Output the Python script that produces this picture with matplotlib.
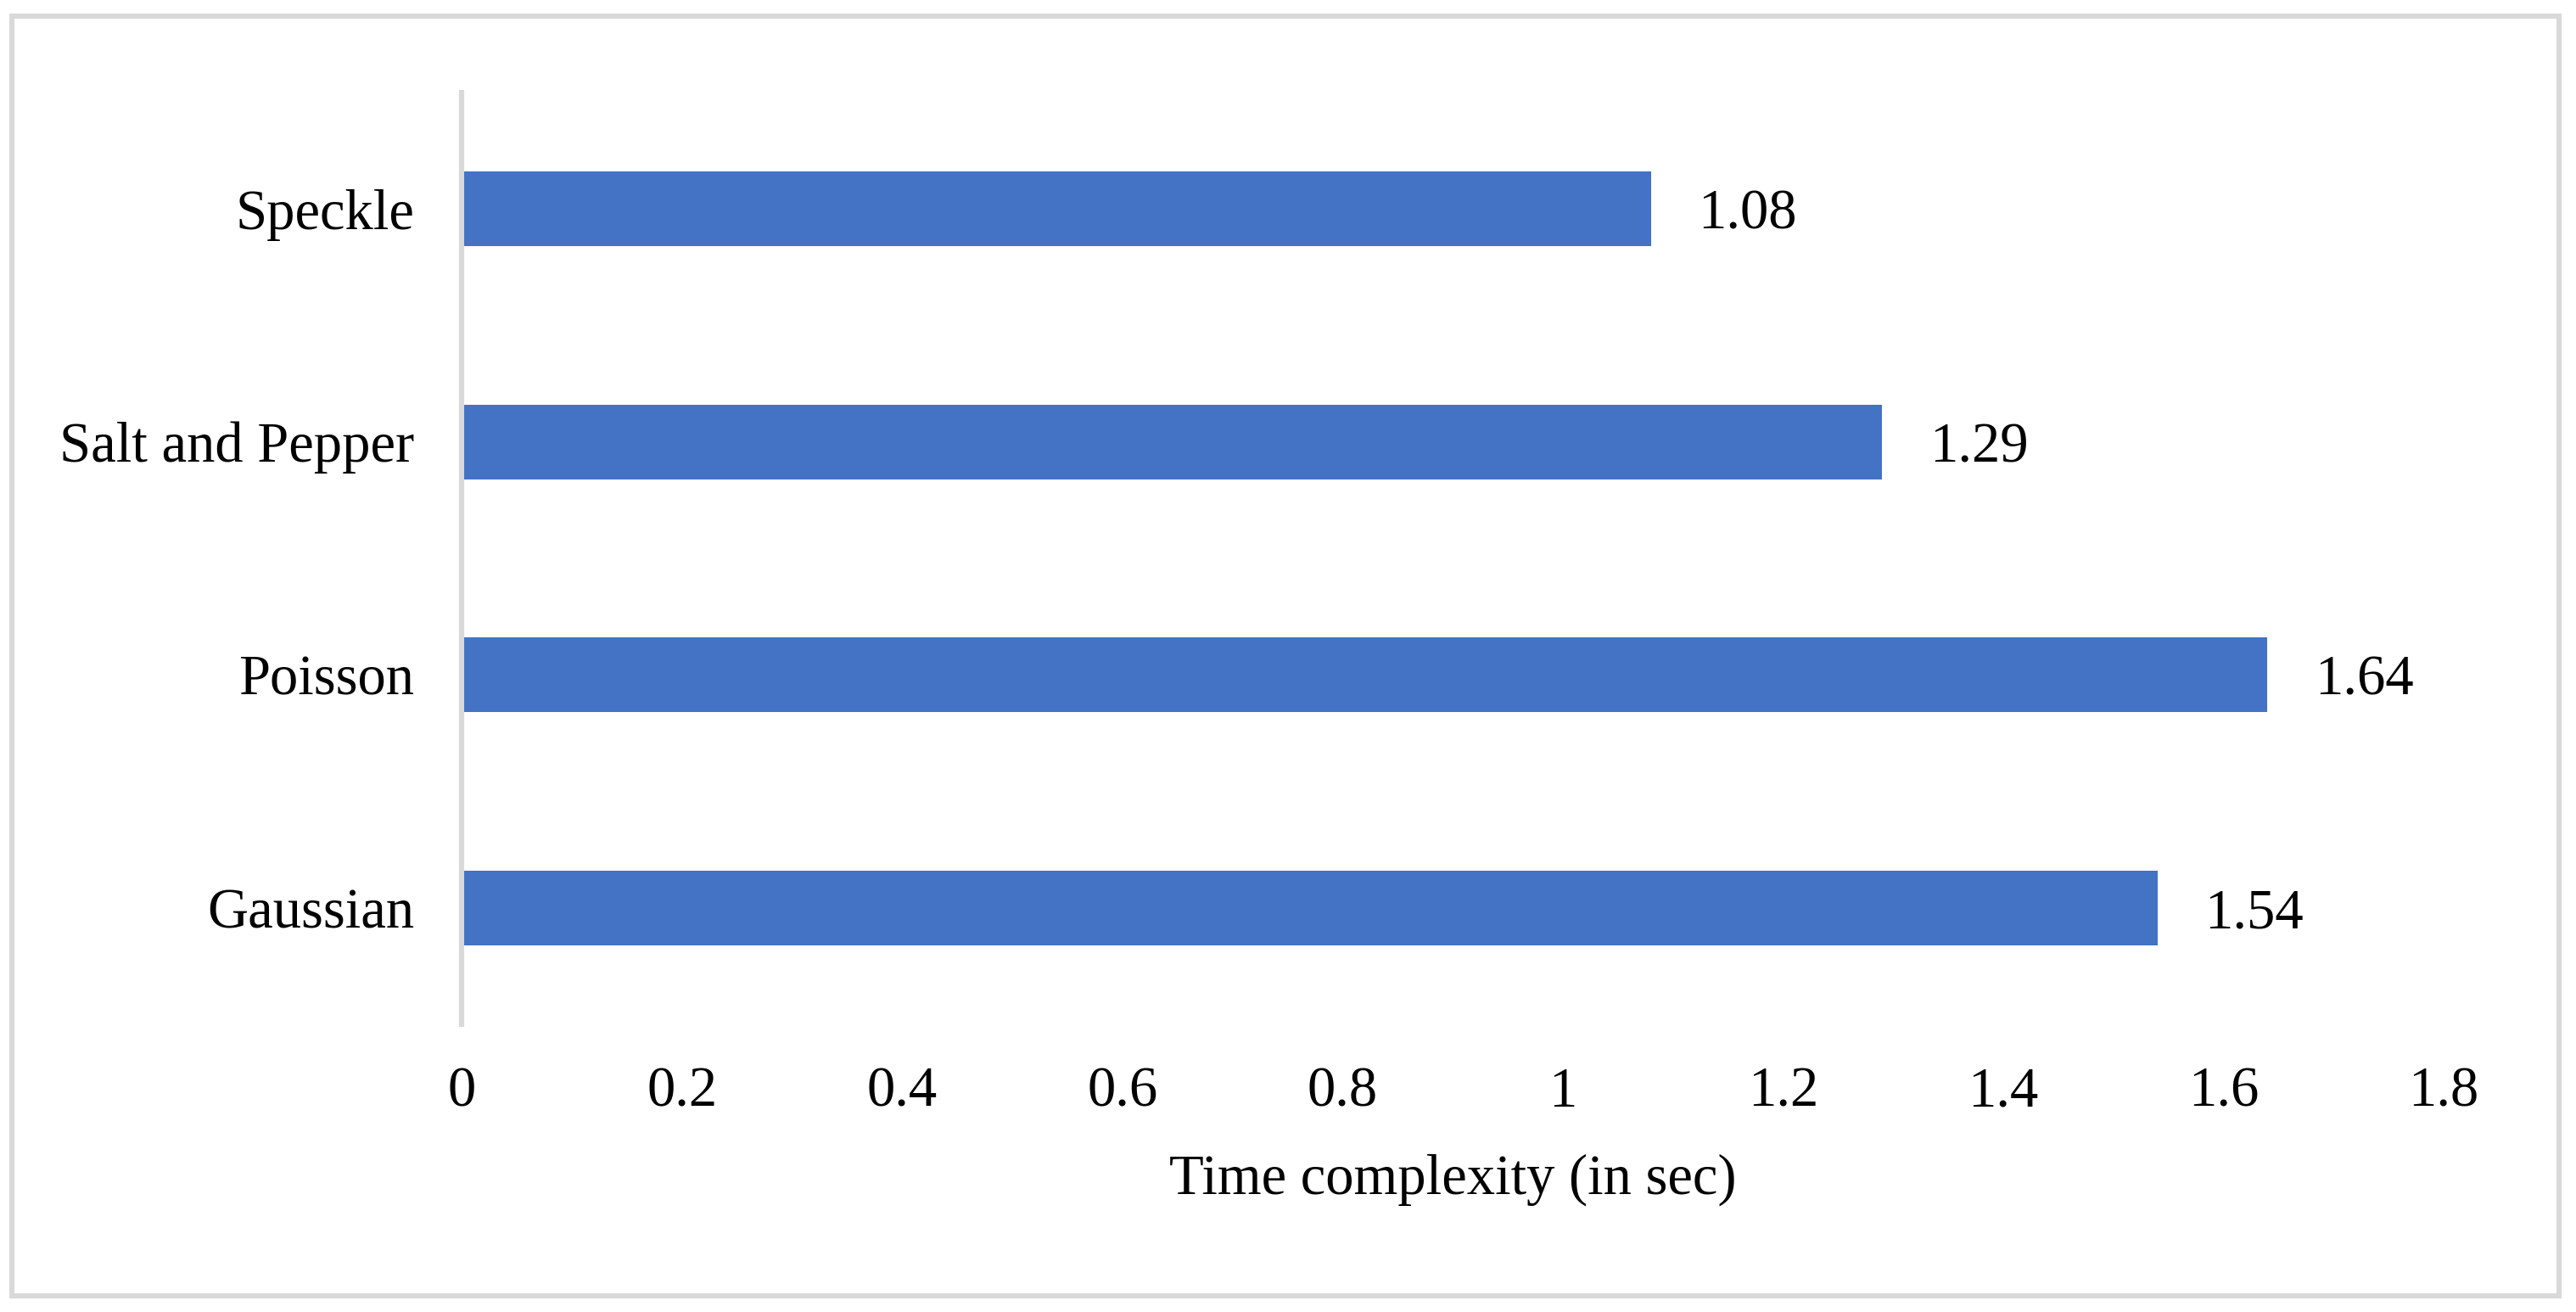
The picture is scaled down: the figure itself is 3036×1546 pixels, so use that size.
import matplotlib.pyplot as plt
from matplotlib.patches import Rectangle

# noise types, listed bottom to top as barh draws them
noise_types = ['Gaussian', 'Poisson', 'Salt and Pepper', 'Speckle']
times = [1.54, 1.64, 1.29, 1.08]
x_ticks = [0, 0.2, 0.4, 0.6, 0.8, 1, 1.2, 1.4, 1.6, 1.8]
x_tick_labels = ['0', '0.2', '0.4', '0.6', '0.8', '1', '1.2', '1.4', '1.6', '1.8']

plt.rcParams['font.family'] = ['Liberation Serif', 'DejaVu Serif']

fig = plt.figure(figsize=(15.18, 7.73), dpi=200)
ax = fig.add_axes([0.1792, 0.2193, 0.9486 - 0.1792, 0.9295 - 0.2193])

ypos = range(len(noise_types))
bars = ax.barh(ypos, times, height=0.32, color='#4472C4')

# value labels to the right of each bar
for y, v in zip(ypos, times):
    ax.annotate('%.2f' % v, xy=(v, y), xytext=(20, 0), textcoords='offset points',
                ha='left', va='center_baseline', fontsize=24, color='black')

ax.set_xlim(0, 1.8)
ax.set_ylim(-0.5, 3.5)
ax.set_xticks(x_ticks)
ax.set_xticklabels(x_tick_labels)
ax.set_yticks(list(ypos))
ax.set_yticklabels(noise_types)
ax.tick_params(axis='both', length=0, labelsize=24, colors='black')
ax.tick_params(axis='x', pad=18)
ax.tick_params(axis='y', pad=20)

for side in ['top', 'right', 'bottom']:
    ax.spines[side].set_visible(False)
ax.spines['left'].set_color('#D9D9D9')
ax.spines['left'].set_linewidth(2.2)

ax.set_xlabel('Time complexity (in sec)', fontsize=24, labelpad=15)

# light grey frame around the whole chart
fig.patches.append(Rectangle((14 / 3036, 1 - 1527 / 1546), (3016 - 14) / 3036, (1527 - 19) / 1546,
                             transform=fig.transFigure, fill=False,
                             edgecolor='#D9D9D9', linewidth=2.2))

plt.savefig('out.png', dpi=200)
